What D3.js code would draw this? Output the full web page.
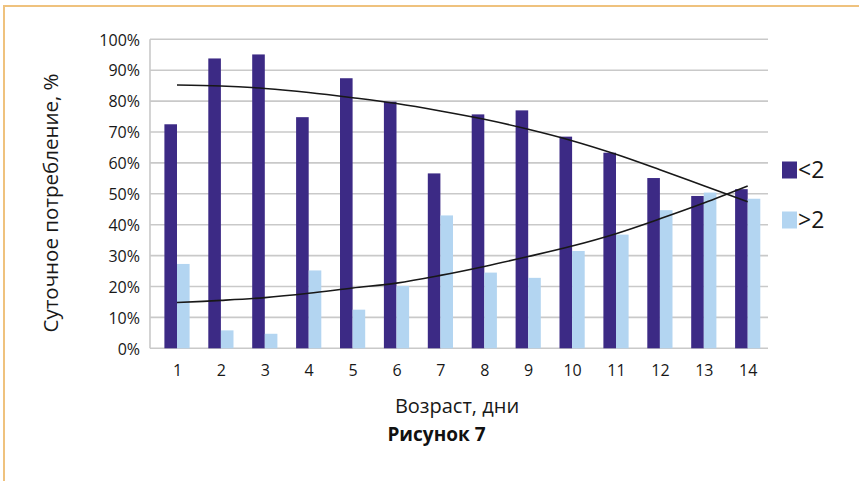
<!DOCTYPE html>
<html>
<head>
<meta charset="utf-8">
<script src="https://cdn.jsdelivr.net/npm/d3@7"></script>
<style>
  html, body { margin: 0; padding: 0; background: #fff; }
  svg { display: block; font-family: "Open Sans", "Noto Sans", sans-serif; }
</style>
</head>
<body>
<svg id="chart" width="859" height="481"></svg>
<script>
// Day of age
const days = [1, 2, 3, 4, 5, 6, 7, 8, 9, 10, 11, 12, 13, 14];
// Daily intake share, %, for the two groups
const below2 = [72.5, 93.8, 95.1, 74.8, 87.4, 79.8, 56.6, 75.7, 77.0, 68.5, 63.3, 55.1, 49.3, 51.5];
const above2 = [27.3, 5.8, 4.7, 25.2, 12.5, 20.2, 43.0, 24.5, 22.8, 31.5, 36.8, 44.7, 50.4, 48.4];
// Trend lines for each group
const trendBelow2 = [85.2, 84.9, 84.1, 82.8, 81.1, 79.2, 76.8, 74.1, 70.9, 67.2, 62.8, 57.8, 52.6, 47.4];
const trendAbove2 = [14.8, 15.5, 16.4, 17.8, 19.5, 21.1, 23.6, 26.5, 29.7, 33.1, 37.1, 41.9, 47.0, 52.5];
const yTicks = [0, 10, 20, 30, 40, 50, 60, 70, 80, 90, 100];
const seriesNames = ["<2", ">2"];
const seriesColors = ["#3c2a85", "#b3d5f1"];

const svg = d3.select("#chart");
const ink = "#181818";

// Page frame
svg.append("line").attr("x1", 4).attr("x2", 859).attr("y1", 6).attr("y2", 6)
  .attr("stroke", "#efc27e").attr("stroke-width", 2);
svg.append("line").attr("x1", 4).attr("x2", 4).attr("y1", 5).attr("y2", 481)
  .attr("stroke", "#efc27e").attr("stroke-width", 2);

const plot = { left: 150, right: 768, top: 39.3, bottom: 348.3 };

const y = d3.scaleLinear().domain([0, 100]).range([plot.bottom, plot.top]);
const x = d3.scalePoint().domain(days).range([177, 747.7]);
const xSub = d3.scaleBand().domain(seriesNames).range([-12.6, 12.6]).padding(0);

// Horizontal gridlines
svg.append("g").selectAll("line").data(yTicks).join("line")
  .attr("x1", plot.left).attr("x2", plot.right)
  .attr("y1", d => y(d)).attr("y2", d => y(d))
  .attr("stroke", "#c9c9c9").attr("stroke-width", 1.6);

// Vertical axis line
svg.append("line").attr("x1", plot.left).attr("x2", plot.left)
  .attr("y1", plot.top).attr("y2", plot.bottom)
  .attr("stroke", "#c9c9c9").attr("stroke-width", 1.6);

// Y axis labels
const yAxis = svg.append("g").attr("transform", `translate(${plot.left - 7},0)`)
  .call(d3.axisLeft(y).tickValues(yTicks).tickSize(0).tickFormat(d => d + "%"));
yAxis.select(".domain").remove();
yAxis.selectAll("text").attr("font-size", 16).attr("fill", ink)
  .attr("font-family", "'Open Sans', sans-serif").attr("dy", "0.36em");

// X axis labels
const xAxis = svg.append("g").attr("transform", `translate(0,${plot.bottom + 13})`)
  .call(d3.axisBottom(x).tickSize(0));
xAxis.select(".domain").remove();
xAxis.selectAll("text").attr("font-size", 16).attr("fill", ink)
  .attr("font-family", "'Open Sans', sans-serif");

// Bars
const rows = days.map((d, i) => ({ day: d, values: [below2[i], above2[i]] }));
const groups = svg.append("g").selectAll("g").data(rows).join("g")
  .attr("transform", d => `translate(${x(d.day)},0)`);
groups.selectAll("rect")
  .data(d => d.values.map((v, k) => ({ name: seriesNames[k], value: v, k })))
  .join("rect")
  .attr("x", d => xSub(d.name))
  .attr("width", xSub.bandwidth())
  .attr("y", d => y(d.value))
  .attr("height", d => y(0) - y(d.value))
  .attr("fill", d => seriesColors[d.k]);

// Trend lines
const line = d3.line().x((d, i) => x(days[i])).y(d => y(d)).curve(d3.curveCatmullRom);
[trendBelow2, trendAbove2].forEach(t => {
  svg.append("path").attr("d", line(t))
    .attr("fill", "none").attr("stroke", ink).attr("stroke-width", 1.6);
});

// Legend
const legend = svg.append("g");
seriesNames.forEach((name, k) => {
  const cy = 170 + k * 50;
  legend.append("rect").attr("x", 782).attr("y", cy - 8.5).attr("width", 15).attr("height", 17)
    .attr("fill", seriesColors[k]);
  legend.append("text").attr("x", 798).attr("y", cy).attr("dy", "0.36em")
    .attr("font-size", 23).attr("fill", ink).text(name);
});

// Axis titles
svg.append("text").attr("x", 457).attr("y", 413).attr("text-anchor", "middle")
  .attr("font-size", 20).attr("fill", ink).text("Возраст, дни");
svg.append("text").attr("transform", "translate(58,203) rotate(-90)")
  .attr("text-anchor", "middle").attr("font-size", 20.5).attr("fill", ink)
  .text("Суточное потребление, %");

// Figure caption
svg.append("text").attr("x", 436.5).attr("y", 441).attr("text-anchor", "middle")
  .attr("font-size", 19).attr("font-weight", "bold").attr("fill", "#111")
  .text("Рисунок 7");
</script>
</body>
</html>
